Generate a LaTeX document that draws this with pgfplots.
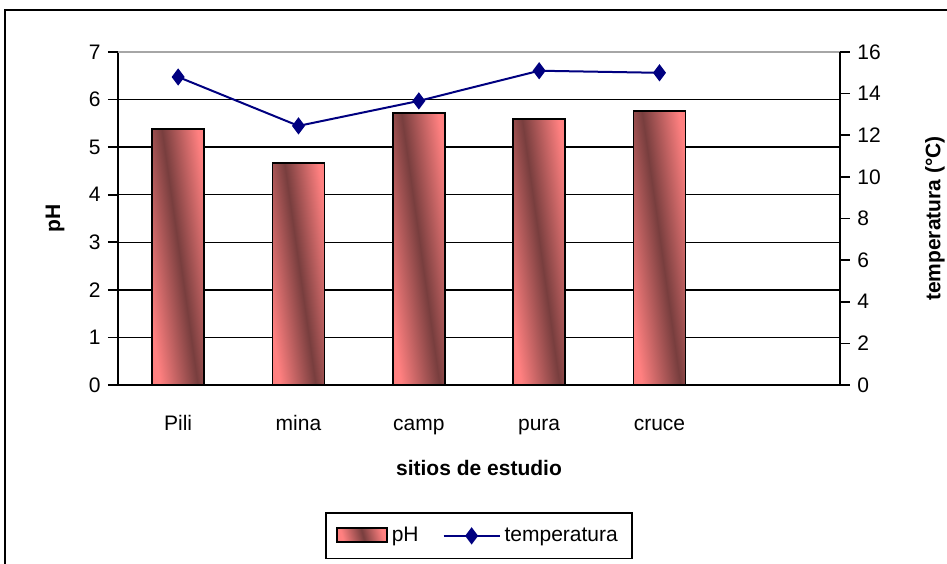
\documentclass[border=0pt]{standalone}
\usepackage{pgfplots}
\pgfplotsset{compat=1.18}
\usepackage{fontspec}
\setmainfont{Liberation Sans}

\definecolor{barpink}{RGB}{255,128,128}
\definecolor{bardark}{RGB}{120,62,62}
\definecolor{navyline}{RGB}{0,0,128}

% pink - dark - pink band, turned a little so that the dark stripe runs top left to bottom right
\pgfdeclarehorizontalshading{barshade}{100bp}{color(0bp)=(barpink); color(27bp)=(barpink);
  color(51bp)=(bardark); color(74bp)=(barpink); color(100bp)=(barpink)}

\pgfplotsset{
  longline legend/.style={legend image code/.code={%
    \draw[mark repeat=2, mark phase=2, ##1] plot coordinates {(0pt,0pt) (14pt,0pt) (28pt,0pt)};}},
  shadedbar legend/.style={legend image code/.code={%
    \draw[##1] (0pt,-3pt) rectangle (25pt,4pt);}},
  phbar/.style={ybar, bar width=26pt, bar shift=0pt, draw=black, line width=0.8pt,
    shading=barshade, shading angle=8},
}

\begin{document}
\begin{tikzpicture}
\fontsize{10.5}{12.5}\selectfont
\useasboundingbox (0,0) rectangle (473.5pt,281.5pt);
\draw[line width=1pt] (2.5pt,-1pt) -- (2.5pt,276.5pt) -- (474pt,276.5pt);

\pgfplotsset{
  every axis/.append style={
    scale only axis, width=361pt, height=166.5pt,
    at={(59pt,89pt)}, anchor=south west,
    xmin=-0.5, xmax=5.5,
    tick style={black, line width=0.8pt},
    /pgf/number format/assume math mode=true,
    tick label style={font=\fontsize{10.5}{12.5}\selectfont},
  }
}

\begin{axis}[
  axis x line*=bottom, axis y line*=left,
  axis line style={line width=0.8pt},
  ymin=0, ymax=7,
  ytick={0,...,6},
  extra y ticks={7},
  extra y tick style={grid style={gray!70, line width=1pt}},
  ymajorgrids, grid style={black, line width=0.7pt},
  major tick length=5pt,
  tick align=outside,
  xtick={0,...,4},
  xticklabels={Pili,mina,camp,pura,cruce},
  x tick style={draw=none},
  xticklabel style={yshift=-5pt, text height=1.6ex, text depth=0.3ex},
  extra x ticks={-0.5,0.5,1.5,2.5,3.5,4.5,5.5},
  extra x tick labels={},
  extra x tick style={major tick length=8pt, tick align=center, tick style={draw=black, line width=0.8pt}, grid=none},
  xlabel={sitios de estudio},
  ylabel={pH},
  every axis x label/.style={at={(axis description cs:0.5,-0.249)}, anchor=center,
    font=\fontsize{10.5}{12.5}\selectfont\bfseries},
  every axis y label/.style={at={(axis description cs:-0.087,0.5)}, rotate=90, anchor=center,
    font=\fontsize{10.5}{12.5}\selectfont\bfseries},
]
% pH, one bar per site so that each bar gets its own shading
\addplot[phbar] coordinates {(0,5.38)};
\addplot[phbar] coordinates {(1,4.67)};
\addplot[phbar] coordinates {(2,5.72)};
\addplot[phbar] coordinates {(3,5.59)};
\addplot[phbar] coordinates {(4,5.76)};
\end{axis}

\begin{axis}[
  axis x line=none, axis y line*=right,
  axis line style={line width=0.8pt},
  ymin=0, ymax=16,
  ytick={0,2,...,16},
  major tick length=5pt,
  tick align=outside,
  ylabel={temperatura (°C)},
  every axis y label/.style={at={(axis description cs:1.1316,0.5)}, rotate=90, anchor=center,
    font=\fontsize{10.5}{12.5}\selectfont\bfseries},
  legend columns=2,
  legend style={at={(axis description cs:0.5,-0.453)}, anchor=center,
    draw=black, line width=0.8pt, font=\fontsize{10.5}{12.5}\selectfont,
    inner xsep=5pt, inner ysep=5pt,
    /tikz/every odd column/.append style={column sep=0pt},
    /tikz/every even column/.append style={column sep=10pt}},
]
\addlegendimage{shadedbar legend, draw=black, line width=0.8pt, shading=barshade, shading angle=15}
\addlegendentry{pH}
\addplot[navyline, line width=1pt, mark=diamond*, mark size=3.5pt, mark options={fill=navyline, draw=navyline},
  longline legend]
  coordinates {(0,14.8) (1,12.45) (2,13.65) (3,15.1) (4,15.0)};
\addlegendentry{temperatura}
\end{axis}
\end{tikzpicture}
\end{document}
